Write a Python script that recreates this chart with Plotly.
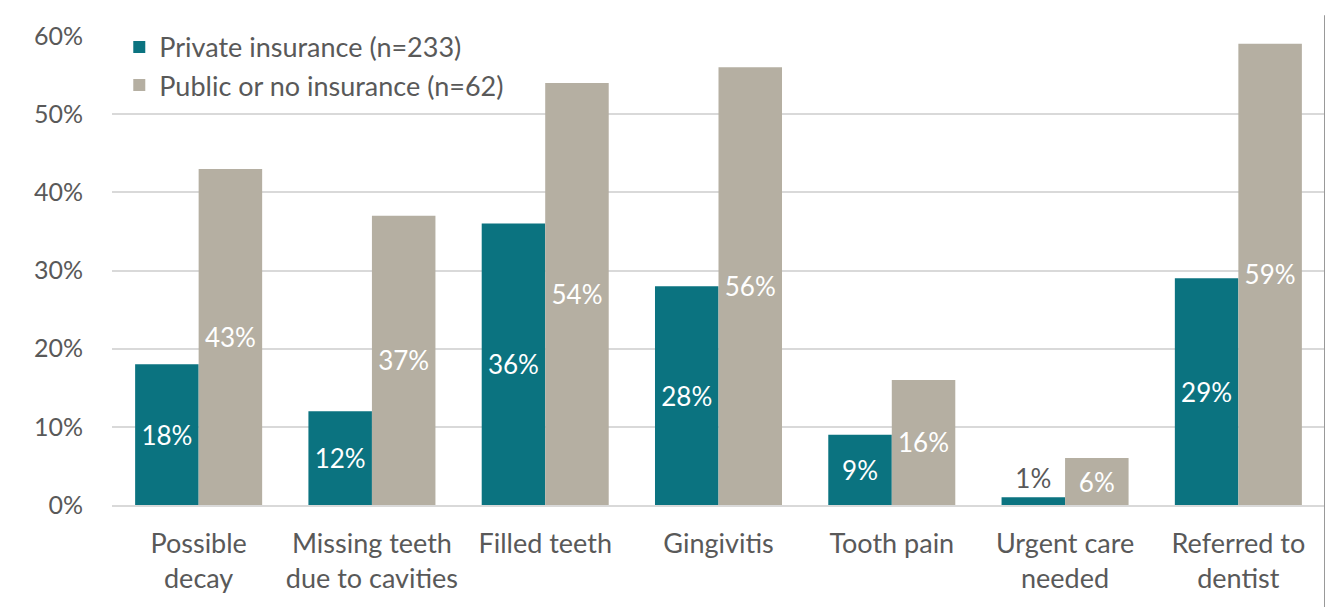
import plotly.graph_objects as go

# Chart data
categories = ["Possible<br>decay", "Missing teeth<br>due to cavities", "Filled teeth",
              "Gingivitis", "Tooth pain", "Urgent care<br>needed", "Referred to<br>dentist"]
private_pct = [0.18, 0.12, 0.36, 0.28, 0.09, 0.01, 0.29]
public_pct = [0.43, 0.37, 0.54, 0.56, 0.16, 0.06, 0.59]
series_names = ["Private insurance (n=233)", "Public or no insurance (n=62)"]

TEAL = "#0b7380"
GREY = "#b5afa2"
TEXT = "#595959"
FONT = "Lato, Open Sans, sans-serif"

fig = go.Figure()
for name, vals, col in [(series_names[0], private_pct, TEAL),
                        (series_names[1], public_pct, GREY)]:
    fig.add_trace(go.Bar(
        x=categories, y=vals, name=name,
        marker=dict(color=col, line=dict(width=0)),
        texttemplate="%{y:.0%}",
        textposition="auto",
        insidetextanchor="middle",
        textangle=0,
        insidetextfont=dict(color="white", size=26, family=FONT),
        outsidetextfont=dict(color=TEXT, size=26, family=FONT),
        cliponaxis=False,
    ))

# page body has an 8px margin, so margins are shifted to compensate
fig.update_layout(
    width=1333, height=607,
    margin=dict(l=104, r=16, t=24, b=110),
    plot_bgcolor="white", paper_bgcolor="white",
    barmode="group", bargap=0.267, bargroupgap=0,
    font=dict(family=FONT, size=27, color=TEXT),
    showlegend=True,
    legend=dict(x=0.006, y=1.028, xanchor="left", yanchor="top",
                bgcolor="rgba(0,0,0,0)", font=dict(size=27, color=TEXT),
                tracegroupgap=0),
    yaxis=dict(range=[0, 0.6], dtick=0.1, tickformat=".0%",
               showgrid=True, gridcolor="#d9d9d9", gridwidth=1.5,
               zeroline=False, showline=False, ticks="",
               tickfont=dict(size=25), ticklabelstandoff=28),
    xaxis=dict(showline=True, linecolor="#d9d9d9", linewidth=1.5,
               ticks="", tickangle=0, ticklabelstandoff=14),
    shapes=[dict(type="line", xref="paper", yref="paper",
                 x0=1.0, x1=1.0, y0=1.044, y1=-0.22,
                 x0shift=0, x1shift=0,
                 line=dict(color="#999999", width=2))],
)

fig.write_html("out.html")
